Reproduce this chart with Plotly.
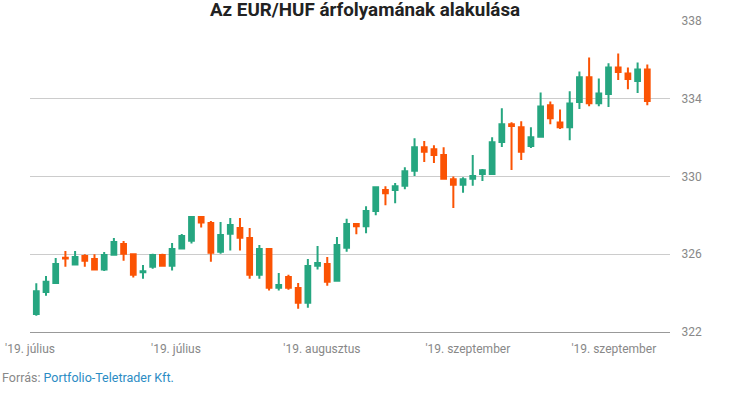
import plotly.graph_objects as go

# Daily EUR/HUF candles
opens = [322.93, 324.06, 324.52, 325.82, 325.47, 325.91, 325.76, 325.21, 325.98, 326.53,
         326.00, 325.08, 325.36, 325.96, 325.41, 326.29, 326.70, 327.92, 327.61, 326.13,
         327.06, 327.35, 326.84, 324.95, 326.27, 324.28, 324.83, 324.27, 323.51, 325.41,
         325.50, 324.64, 326.34, 327.55, 327.44, 328.23, 329.31, 329.30, 329.52, 330.29,
         331.51, 331.40, 331.10, 329.86, 329.57, 329.88, 330.13, 330.13, 331.78, 332.69,
         332.54, 331.57, 332.04, 333.66, 332.78, 332.54, 333.83, 335.10, 333.77, 334.24,
         335.61, 335.30, 334.91, 335.51]
highs = [324.51, 324.88, 325.81, 326.17, 326.17, 326.00, 326.00, 326.12, 326.84, 326.68,
         326.05, 325.45, 326.03, 326.03, 326.58, 327.04, 327.92, 327.97, 327.71, 327.66,
         327.87, 327.87, 327.35, 326.48, 326.32, 325.04, 324.94, 324.52, 325.76, 326.43,
         325.86, 326.89, 327.82, 327.56, 328.47, 329.50, 329.50, 329.66, 330.48, 331.97,
         331.82, 331.61, 331.51, 330.00, 329.96, 331.10, 330.38, 332.02, 333.51, 332.79,
         332.84, 332.54, 334.32, 333.86, 333.45, 334.38, 335.40, 336.12, 335.04, 335.82,
         336.33, 335.61, 335.87, 335.76]
lows = [322.83, 323.87, 324.47, 325.36, 325.47, 325.36, 325.21, 325.14, 325.93, 325.67,
        324.80, 324.74, 325.26, 325.36, 325.16, 326.24, 326.55, 327.37, 325.62, 326.03,
        326.19, 326.19, 324.74, 324.74, 324.13, 324.13, 324.18, 323.20, 323.25, 325.21,
        324.38, 324.59, 326.13, 327.03, 327.08, 328.01, 328.52, 328.63, 329.35, 330.03,
        330.75, 330.70, 329.87, 328.38, 329.16, 329.52, 329.77, 330.13, 331.52, 330.34,
        330.85, 331.47, 332.04, 332.69, 332.44, 331.87, 333.47, 333.62, 333.62, 333.57,
        334.96, 334.49, 334.29, 333.67]
closes = [324.10, 324.58, 325.50, 325.78, 325.86, 325.67, 325.21, 325.96, 326.63, 326.03,
          324.95, 325.12, 325.96, 325.41, 326.27, 326.94, 327.92, 327.63, 326.08, 326.99,
          327.51, 326.85, 324.95, 326.27, 324.28, 324.42, 324.28, 323.51, 325.40, 325.55,
          324.59, 326.48, 327.56, 327.44, 328.22, 329.45, 329.14, 329.50, 330.27, 331.51,
          331.27, 331.11, 329.88, 329.57, 329.86, 330.02, 330.32, 331.76, 332.69, 332.60,
          331.27, 332.02, 333.60, 333.00, 332.54, 333.76, 335.10, 333.77, 334.27, 335.61,
          335.37, 335.01, 335.51, 333.88]

days = list(range(len(opens)))

tick_positions = [-0.65, 14.4, 29.45, 44.5, 59.55]
tick_labels = ["'19. július", "'19. július", "'19. augusztus", "'19. szeptember", "'19. szeptember"]
y_ticks = [322, 326, 330, 334, 338]

GREEN = "#26a680"
ORANGE = "#fb5304"

fig = go.Figure(go.Candlestick(
    x=days, open=opens, high=highs, low=lows, close=closes,
    increasing=dict(line=dict(color=GREEN, width=2), fillcolor=GREEN),
    decreasing=dict(line=dict(color=ORANGE, width=2), fillcolor=ORANGE),
    whiskerwidth=0, showlegend=False,
))

fig.update_layout(
    width=730, height=410,
    margin=dict(l=30, r=60, t=21, b=78, autoexpand=False),
    paper_bgcolor="white", plot_bgcolor="white",
    font=dict(family="Roboto", size=12, color="#888888"),
    title=dict(text="<b>Az EUR/HUF árfolyamának alakulása</b>",
               x=0.5, xanchor="center", y=0.977, yanchor="middle",
               font=dict(family="Roboto", size=18.8, color="#222222")),
    xaxis=dict(range=[-0.65, 65.34], rangeslider=dict(visible=False),
               tickmode="array", tickvals=tick_positions, ticktext=tick_labels,
               showgrid=False, zeroline=False, showline=True, linecolor="#999999",
               linewidth=1, ticks="outside", ticklen=6, tickcolor="rgba(0,0,0,0)",
               tickfont=dict(size=12, color="#888888"), automargin=False),
    yaxis=dict(range=[322, 338], side="right", tickmode="array", tickvals=y_ticks,
               showgrid=True, gridcolor="#cccccc", gridwidth=1, zeroline=False,
               ticks="outside", ticklen=8, tickcolor="rgba(0,0,0,0)",
               tickfont=dict(size=12, color="#888888"), automargin=False),
    annotations=[dict(
        text="Forrás: <span style='color:#2b8cc4'>Portfolio-Teletrader Kft.</span>",
        xref="paper", yref="paper", x=-30.5/640, y=-(377-331.7)/311,
        xanchor="left", yanchor="middle", showarrow=False,
        font=dict(family="Roboto", size=12.5, color="#888888"))],
)

fig.write_html("out.html", config={"displayModeBar": False},
               post_script="document.body.style.margin='0';document.body.style.padding='0';")
